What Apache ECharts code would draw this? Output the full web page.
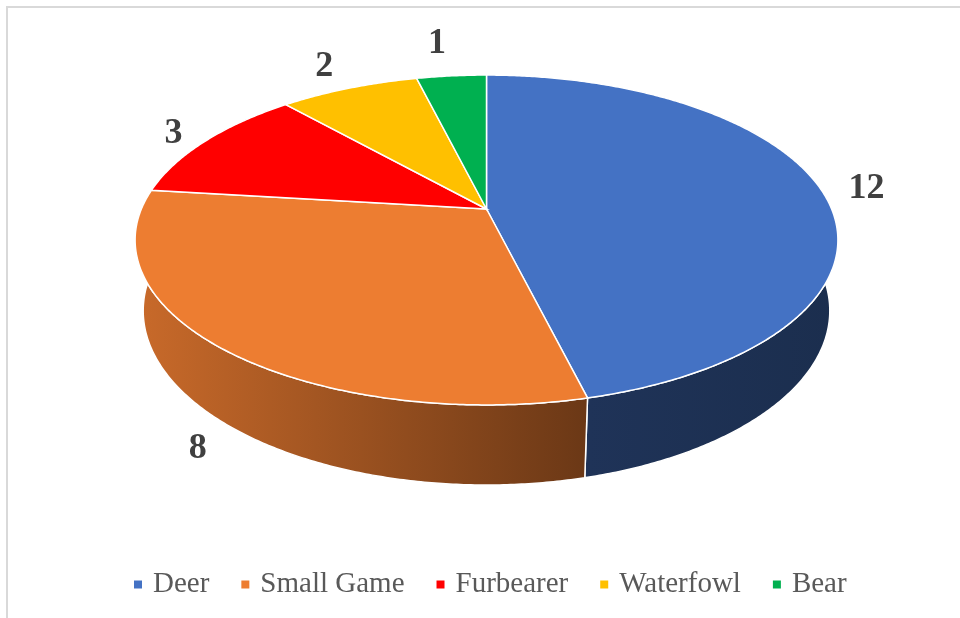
<!DOCTYPE html>
<html>
<head>
<meta charset="utf-8">
<script src="https://cdn.jsdelivr.net/npm/echarts@6/dist/echarts.min.js"></script>
<style>
  html, body { margin: 0; padding: 0; background: #fff; }
  #chart { width: 960px; height: 618px; }
</style>
</head>
<body>
<div id="chart"></div>
<script>
// data
var categories = ['Deer', 'Small Game', 'Furbearer', 'Waterfowl', 'Bear'];
var values = [12, 8, 3, 2, 1];
var colors = ['#4472C4', '#ED7D31', '#FF0000', '#FFC000', '#00B050'];

var total = values.reduce(function (a, b) { return a + b; }, 0);

// tilted-disc projection (perspective), fitted to the picture
var CX = 486.5, CY = 209, F = 1629, D = 4.72, COS_T = 0.887, SIN_T = 0.461, H = 0.233;

function project(X, Y, Z) {
    var yc = Z * SIN_T + Y * COS_T;
    var zc = Z * COS_T - Y * SIN_T;
    var den = D + zc;
    return [CX + F * X / den, CY - F * yc / den];
}

function rim(a, Y) {
    return project(Math.sin(a), Y, Math.cos(a));
}

function shade(hex, f) {
    var n = parseInt(hex.slice(1), 16);
    var r = Math.round(((n >> 16) & 255) * f);
    var g = Math.round(((n >> 8) & 255) * f);
    var b = Math.round((n & 255) * f);
    return 'rgb(' + r + ',' + g + ',' + b + ')';
}

function makeRender(idx) {
    return function (params, api) {
        var start = api.value(0), val = api.value(1);
        var a0 = start / total * Math.PI * 2;
        var a1 = (start + val) / total * Math.PI * 2;
        var step = Math.PI / 360;
        var children = [];

        // outer wall, front half only
        var s0 = Math.max(a0, Math.PI / 2), s1 = Math.min(a1, Math.PI * 1.5);
        if (s1 > s0) {
            var upper = [], lower = [];
            for (var a = s0; a < s1; a += step) {
                upper.push(rim(a, 0));
                lower.push(rim(a, -H));
            }
            upper.push(rim(s1, 0));
            lower.push(rim(s1, -H));
            var wall = upper.concat(lower.reverse());
            children.push({
                type: 'polygon',
                shape: { points: wall },
                style: {
                    fill: {
                        type: 'linear', x: 135, y: 0, x2: 838, y2: 0, global: true,
                        colorStops: [
                            { offset: 0, color: shade(colors[idx], 0.85) },
                            { offset: 0.643, color: shade(colors[idx], 0.45) },
                            { offset: 1, color: shade(colors[idx], 0.40) }
                        ]
                    },
                    stroke: '#fff', lineWidth: 1.5
                },
                z2: 1
            });
        }

        // top face
        var top = [project(0, 0, 0)];
        for (var b = a0; b < a1; b += step) top.push(rim(b, 0));
        top.push(rim(a1, 0));
        children.push({
            type: 'polygon',
            shape: { points: top },
            style: { fill: colors[idx], stroke: '#fff', lineWidth: 1.5 },
            z2: 10
        });

        // value label
        var mid = (a0 + a1) / 2;
        var below = Math.cos(mid) < 0;
        var anchor = rim(mid, below ? -H : 0);
        var dx = anchor[0] - CX, dy = anchor[1] - CY;
        var len = Math.sqrt(dx * dx + dy * dy);
        var ux = dx / len, uy = dy / len;
        var txt = String(val);
        var extra = (txt.length - 1) * 12 * Math.abs(ux);
        var off = below ? 38 : 33;
        children.push({
            type: 'text',
            x: anchor[0] + ux * off + (ux >= 0 ? extra : -extra) - (uy < -0.9 ? 6 : 0),
            y: anchor[1] + uy * off,
            style: {
                text: txt,
                fill: '#404040',
                font: 'bold 36px "Liberation Serif", "Times New Roman", serif',
                align: 'center',
                verticalAlign: 'middle'
            },
            z2: 20
        });

        return { type: 'group', children: children };
    };
}

var series = [];
var acc = 0;
categories.forEach(function (name, i) {
    series.push({
        name: name,
        type: 'custom',
        coordinateSystem: 'none',
        renderItem: makeRender(i),
        data: [[acc, values[i]]]
    });
    acc += values[i];
});

var chart = echarts.init(document.getElementById('chart'));
chart.setOption({
    animation: false,
    color: colors,
    graphic: [{
        type: 'rect',
        shape: { x: 7, y: 7, width: 1000, height: 700 },
        style: { fill: 'none', stroke: '#D9D9D9', lineWidth: 2 },
        silent: true
    }],
    legend: {
        data: categories,
        left: 129,
        top: 565,
        icon: 'rect',
        itemWidth: 8,
        itemHeight: 8,
        itemGap: 32,
        textStyle: {
            fontFamily: '"Liberation Serif", "Times New Roman", serif',
            fontSize: 29,
            color: '#595959',
            padding: [0, 0, 0, 6]
        }
    },
    series: series
});
</script>
</body>
</html>
